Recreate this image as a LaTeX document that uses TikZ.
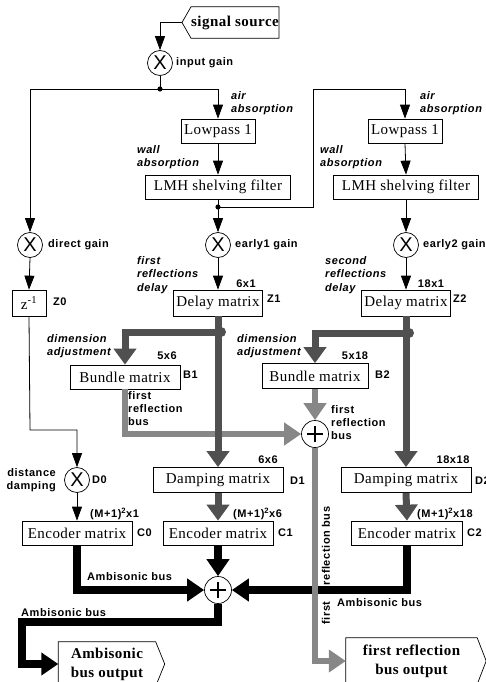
\documentclass[tikz,border=0pt]{standalone}
\usepackage{fontspec}
\setmainfont{Liberation Serif}
\setsansfont{Liberation Sans}
\newfontfamily\boxfont[LetterSpace=3]{Liberation Serif}
\newfontfamily\labfont[LetterSpace=5]{Liberation Sans}
\usetikzlibrary{arrows.meta,calc}
\definecolor{darkbus}{RGB}{80,80,80}
\definecolor{lightbus}{RGB}{135,135,135}
\begin{document}
\begin{tikzpicture}[x=1pt,y=-1pt,
  box/.style={draw, line width=0.7pt, fill=white, minimum height=24pt, inner xsep=2pt, inner ysep=0pt, font=\boxfont\fontsize{15}{16}\selectfont},
  outbox/.style={inner sep=0pt, align=center, font=\boxfont\bfseries\fontsize{15}{19}\selectfont},
  lab/.style={inner sep=0pt, anchor=west, font=\labfont\bfseries\fontsize{11}{13}\selectfont},
  clab/.style={inner sep=0pt, anchor=center, font=\labfont\bfseries\fontsize{11}{13}\selectfont},
  ilab/.style={inner sep=0pt, anchor=north west, align=left, font=\labfont\bfseries\itshape\fontsize{11}{13.5}\selectfont},
  mul/.style={circle, draw, line width=0.7pt, fill=white, minimum size=25pt, inner sep=0pt, font=\sffamily\fontsize{20}{20}\selectfont},
  sumc/.style={circle, draw, line width=0.7pt, fill=white, minimum size=27pt, inner sep=0pt,
    path picture={\draw[line width=1.3pt] ([xshift=-8pt]path picture bounding box.center) -- ([xshift=8pt]path picture bounding box.center);
                  \draw[line width=1.3pt] ([yshift=-8pt]path picture bounding box.center) -- ([yshift=8pt]path picture bounding box.center);}},
  tline/.style={line width=0.8pt},
  tarr/.style={line width=0.8pt, -{Triangle[length=14pt,width=10pt]}},
  dbus/.style={line width=7pt, darkbus, -{Triangle[length=16pt,width=22pt]}},
  lbus/.style={line width=6.5pt, lightbus, -{Triangle[length=17pt,width=22pt]}},
  kbus/.style={line width=7.5pt, black, -{Triangle[length=17pt,width=22pt]}},
]
\useasboundingbox (0,0) rectangle (486,682);

% ---------- nodes ----------
\node[outbox, minimum width=86pt, minimum height=31pt] (src) at (235,22.5) {signal source};
\coordinate (srctip) at (182,22.5);
\draw[line width=0.7pt] (src.north west) -- (src.north east) -- (src.south east) -- (src.south west) -- (srctip) -- cycle;

\node[mul] (ig) at (160,63) {X};
\node[lab] at (176,63) {input gain};
\coordinate (dot1) at (160,89);

\node[box, minimum width=74pt] (lp1) at (218,131) {Lowpass 1};
\node[box, minimum width=74pt] (lp2) at (405,131) {Lowpass 1};
\node[ilab] at (231,91) {air\\absorption};
\node[ilab] at (420,91) {air\\absorption};

\node[box, minimum width=145pt] (lmh1) at (218,187) {LMH shelving filter};
\node[box, minimum width=145pt] (lmh2) at (406,187) {LMH shelving filter};
\node[ilab] at (137,145) {wall\\absorption};
\node[ilab] at (320,145) {wall\\absorption};
\coordinate (dot2) at (218,207);
\coordinate (k1) at (313,89);

\node[mul] (dg) at (30,245) {X};
\node[lab] at (48,245) {direct gain};
\node[mul] (e1) at (218,245) {X};
\node[lab] at (235,245) {early1 gain};
\node[mul] (e2) at (406,245) {X};
\node[lab] at (423,245) {early2 gain};

\node[box, minimum width=34pt, minimum height=26pt] (z0) at (29,303) {z\textsuperscript{-1}};
\node[lab] at (53,302) {Z0};
\node[box, minimum width=89pt, minimum height=26pt] (z1) at (218,303) {Delay matrix};
\node[clab] at (246,284) {6x1};
\node[lab] at (267,299) {Z1};
\node[ilab] at (137,256) {first\\reflections\\delay};
\node[box, minimum width=89pt, minimum height=26pt] (z2) at (406,303) {Delay matrix};
\node[clab] at (431,284) {18x1};
\node[lab] at (453,299) {Z2};
\node[ilab] at (325,256) {second\\reflections\\delay};

\node[box, minimum width=110pt] (b1) at (125,377) {Bundle matrix};
\node[clab] at (167,356) {5x6};
\node[lab] at (183,375) {B1};
\node[ilab] at (47,334) {dimension\\adjustment};
\node[box, minimum width=106pt, minimum height=25pt] (b2) at (315,376) {Bundle matrix};
\node[clab] at (355,356) {5x18};
\node[lab] at (375,375) {B2};
\node[ilab] at (237,334) {dimension\\adjustment};
\coordinate (j1) at (218,332);
\coordinate (j2) at (406,333);

\node[sumc] (sf) at (315,434) {};
\node[ilab, font=\labfont\bfseries\fontsize{11}{13}\selectfont] at (128,391) {first\\reflection\\bus};
\node[ilab, font=\labfont\bfseries\fontsize{11}{13}\selectfont] at (331,405) {first\\reflection\\bus};

\node[box, minimum width=130pt, minimum height=25pt] (dm1) at (218,480) {Damping matrix};
\node[clab] at (268,460) {6x6};
\node[lab] at (290,481) {D1};
\node[box, minimum width=130pt, minimum height=25pt] (dm2) at (406,480) {Damping matrix};
\node[clab] at (453,460) {18x18};
\node[lab] at (475,481) {D2};

\node[mul] (d0) at (77,480) {X};
\node[lab] at (92,480) {D0};
\node[ilab, anchor=east, align=right, font=\labfont\bfseries\fontsize{11}{13}\selectfont] at (56,480) {distance\\damping};
\coordinate (k2) at (30,430);

\node[box, minimum width=110pt] (c0) at (77,533) {Encoder matrix};
\node[lab] at (90,514) {(M+1)\textsuperscript{2}x1};
\node[lab] at (137,533) {C0};
\node[box, minimum width=110pt] (c1) at (218,533) {Encoder matrix};
\node[lab] at (233,514) {(M+1)\textsuperscript{2}x6};
\node[lab] at (278,533) {C1};
\node[box, minimum width=111pt] (c2) at (407,533) {Encoder matrix};
\node[lab] at (417,514) {(M+1)\textsuperscript{2}x18};
\node[lab] at (467,533) {C2};

\node[sumc] (sa) at (218,590) {};
\node[lab] at (87,577) {Ambisonic bus};
\node[lab] at (337,603) {Ambisonic bus};
\node[lab] at (21,613) {Ambisonic bus};
\coordinate (k3) at (22,622);

\node[outbox, minimum width=97pt, minimum height=44pt] (ao) at (107,664) {Ambisonic\\bus output};
\draw[line width=0.7pt] (ao.north west) -- (ao.north east) -- ($(ao.east)+(9,0)$) -- (ao.south east) -- (ao.south west) -- cycle;
\node[outbox, minimum width=131pt, minimum height=46pt] (fo) at (411.5,661) {first reflection\\bus output};
\draw[line width=0.7pt] (fo.north west) -- (fo.north east) -- ($(fo.east)+(9,0)$) -- (fo.south east) -- (fo.south west) -- cycle;

% ---------- thin connectors ----------
\draw[tarr] (srctip) -| (ig.north);
\draw[tline] (ig.south) -- (dot1);
\draw[tarr] (dot1) -| (dg.north);
\draw[tarr] (dot1) -| (lp1.north);
\fill (dot1) circle (2.6);
\draw[tarr] (lp1.south) -- (lmh1.north);
\draw[tarr] (lmh1.south) -- (e1.north);
\draw[tarr] (dot2) -| (k1) -| (lp2.north);
\fill (dot2) circle (2.6);
\draw[tarr] (lp2.south) -- (lmh2.north);
\draw[tarr] (lmh2.south) -- (e2.north);
\draw[tarr] (dg.south) -- (z0.north);
\draw[tarr] (e1.south) -- (z1.north);
\draw[tarr] (e2.south) -- (z2.north);
\draw[tarr] (z0.south) -- (k2) -| (d0.north);
\draw[tarr] (d0.south) -- (c0.north);

% ---------- black Ambisonic buses ----------
\draw[kbus] (c0.south) |- (sa.west);
\draw[kbus] (c1.south) -- (sa.north);
\draw[kbus] (c2.south) |- (sa.east);
\draw[kbus] (sa.south) |- (k3) |- (ao.west);

% ---------- light first reflection bus ----------
\draw[lbus] (b1.south) |- (sf.west);
\draw[lbus] (b2.south) -- (sf.north);
\draw[lbus] (sf.south) |- (fo.west);
\node[clab, rotate=90] at (326,613) {first};
\node[clab, rotate=90] at (326,546) {reflection bus};

% ---------- dark buses ----------
\draw[dbus] (z1.south) -- (dm1.north);
\draw[dbus] (j1) -| (b1.north);
\fill[darkbus] (221,332) circle (5);
\draw[dbus] (z2.south) -- (dm2.north);
\draw[dbus] (j2) -| (b2.north);
\fill[darkbus] (409,333) circle (5);
\draw[dbus] (dm1.south) -- (c1.north);
\draw[dbus] (dm2.south) -- (c2.north);
\end{tikzpicture}
\end{document}
